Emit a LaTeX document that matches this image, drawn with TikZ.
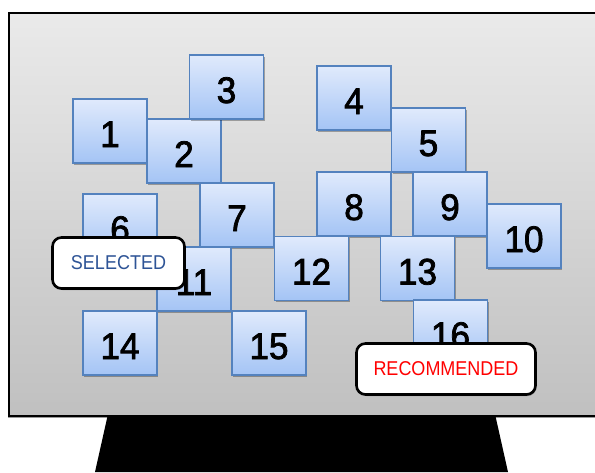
\documentclass[tikz,border=0pt]{standalone}
\usepackage{fontspec}
\setmainfont{Liberation Sans}
\newfontfamily\digitfont{Liberation Sans}[FakeBold=2,FakeStretch=0.95]
\newfontfamily\tagfont{Liberation Sans}[FakeStretch=0.9]
\usetikzlibrary{shadows}
\definecolor{tileborder}{RGB}{84,130,190}
\definecolor{tiletop}{RGB}{224,234,252}
\definecolor{tilebot}{RGB}{164,196,245}
\definecolor{scrtop}{RGB}{234,234,234}
\definecolor{scrbot}{RGB}{192,192,192}
\definecolor{selblue}{RGB}{46,84,150}
\tikzset{
  tile/.style={draw=tileborder, line width=1.3pt, top color=tiletop, bottom color=tilebot,
    minimum width=74pt, minimum height=64pt, inner sep=0pt, text depth=0pt, text height=32pt,
    font=\digitfont\fontsize{37}{37}\selectfont,
    drop shadow={shadow xshift=1pt, shadow yshift=-1.5pt, opacity=0.3, fill=black}},
  tag/.style={draw=black, line width=2.6pt, fill=white, rounded corners=9pt, inner sep=0pt,
    minimum height=51pt, font=\tagfont\fontsize{20}{20}\selectfont,
    drop shadow={shadow xshift=1pt, shadow yshift=-1.5pt, opacity=0.3, fill=black}},
  screen/.style={draw=black, line width=1.3pt, top color=scrtop, bottom color=scrbot,
    minimum width=591pt, minimum height=403pt, inner sep=0pt,
    drop shadow={shadow xshift=-1pt, shadow yshift=-2pt, opacity=0.4, fill=black}}
}
\begin{document}
\begin{tikzpicture}[x=1pt,y=-1pt]
\clip (0,0) rectangle (595,472);
\fill[white] (0,0) rectangle (595,472);
% stand
\fill[black] (108,414) -- (495,414) -- (508,472) -- (95,472) -- cycle;
% screen
\node[screen] (scr) at (304.5,214.5) {};
% tiles
\node[tile] (t1) at (110,131) {1};
\node[tile] (t2) at (184,151) {2};
\node[tile] (t3) at (226.5,87) {3};
\node[tile] (t4) at (354,98) {4};
\node[tile] (t5) at (428.5,140) {5};
\node[tile] (t6) at (120,226) {6};
\node[tile] (t7) at (237,215) {7};
\node[tile] (t8) at (354,204) {8};
\node[tile] (t9) at (450,204) {9};
\node[tile] (t10) at (524,236) {10};
\node[tile] (t11) at (194,279) {11};
\node[tile] (t12) at (311.5,268.5) {12};
\node[tile] (t13) at (417.5,268.5) {13};
\node[tile] (t14) at (120,343) {14};
\node[tile] (t15) at (269,343) {15};
\node[tile] (t16) at (450.5,332) {16};
% tags
\node[tag, minimum width=132pt, text=selblue] (sel) at (118.5,263) {SELECTED};
\node[tag, minimum width=179pt, text=red] (rec) at (446,369) {RECOMMENDED};
\end{tikzpicture}
\end{document}
